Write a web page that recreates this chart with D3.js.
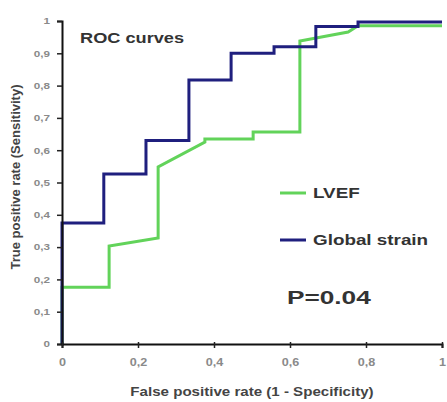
<!DOCTYPE html>
<html>
<head>
<meta charset="utf-8">
<script src="https://cdn.jsdelivr.net/npm/d3@7"></script>
<style>
  html, body { margin: 0; padding: 0; background: #fff; }
  svg { display: block; font-family: Arial, "Liberation Sans", sans-serif; }
</style>
</head>
<body>
<svg id="chart" width="447" height="402"></svg>
<script>
// ROC curve points: [false positive rate, true positive rate]
const lvefPoints = [
  [0, 0], [0, 0.176], [0.124, 0.176], [0.124, 0.303], [0.253, 0.328],
  [0.253, 0.548], [0.376, 0.625], [0.376, 0.635], [0.503, 0.635],
  [0.503, 0.656], [0.626, 0.656], [0.626, 0.938], [0.753, 0.966],
  [0.779, 0.985], [1, 0.985]
];
const strainPoints = [
  [0, 0], [0, 0.375], [0.11, 0.375], [0.11, 0.526], [0.221, 0.526],
  [0.221, 0.63], [0.334, 0.63], [0.334, 0.817], [0.445, 0.817],
  [0.445, 0.90], [0.558, 0.90], [0.558, 0.92], [0.668, 0.92],
  [0.668, 0.983], [0.779, 0.983], [0.779, 0.997], [1, 0.997]
];
const seriesNames = ["LVEF", "Global strain"];
const seriesColors = ["#62d35a", "#1f1f7e"];
const xTicks = [0, 0.2, 0.4, 0.6, 0.8, 1];
const yTicks = [0, 0.1, 0.2, 0.3, 0.4, 0.5, 0.6, 0.7, 0.8, 0.9, 1];
const chartTitle = "ROC curves";
const pLabel = "P=0.04";
const xTitle = "False positive rate (1 - Specificity)";
const yTitle = "True positive rate (Sensitivity)";

const svg = d3.select("#chart");
const x = d3.scaleLinear().domain([0, 1]).range([62, 442]);
const y = d3.scaleLinear().domain([0, 1]).range([344, 21]);
const fmt = v => (v === 0 || v === 1) ? String(v) : d3.format(".1f")(v).replace(".", ",");

// the chart's lettering is set wide: stretch horizontal text by a factor
const WIDE = 1.3;
function wideText(px, py, str, size, sx, anchor) {
  return svg.append("text")
    .attr("transform", `translate(${px},${py}) scale(${sx},1)`)
    .attr("text-anchor", anchor || "start")
    .attr("fill", "#333")
    .style("font-size", size + "px")
    .style("font-weight", "bold")
    .text(str);
}

// curves (LVEF underneath, global strain on top)
const line = d3.line().x(d => x(d[0])).y(d => y(d[1]));
[lvefPoints, strainPoints].forEach((pts, i) => {
  svg.append("path")
    .datum(pts)
    .attr("fill", "none")
    .attr("stroke", seriesColors[i])
    .attr("stroke-width", 3)
    .attr("stroke-linejoin", "miter")
    .attr("d", line);
});

// y axis
const yAxis = svg.append("g")
  .attr("transform", `translate(${x(0)},0)`)
  .call(d3.axisLeft(y).tickValues(yTicks).tickFormat(fmt).tickSize(5).tickPadding(7));
yAxis.select(".domain").attr("stroke", "#111").attr("stroke-width", 2);
yAxis.selectAll(".tick line").attr("stroke", "#222").attr("stroke-width", 1.5);
const ySx = 1.3;
yAxis.selectAll(".tick text")
  .attr("x", -12 / ySx)
  .attr("transform", `scale(${ySx},1)`)
  .attr("fill", "#8a8a8a").style("font-size", "9px").style("font-weight", "bold");

// x axis
const xAxis = svg.append("g")
  .attr("transform", `translate(0,${y(0)})`)
  .call(d3.axisBottom(x).tickValues(xTicks).tickFormat(fmt).tickSize(4).tickPadding(11));
xAxis.select(".domain").attr("stroke", "#111").attr("stroke-width", 2);
xAxis.selectAll(".tick line").attr("stroke", "#222").attr("stroke-width", 1.5).attr("y1", -2);
xAxis.selectAll(".tick text")
  .attr("transform", "scale(1.2,1)")
  .attr("fill", "#8a8a8a").style("font-size", "10.5px").style("font-weight", "bold");

// axis titles
wideText((x(0) + x(1)) / 2, 396, xTitle, 12, 1.26, "middle").attr("fill", "#444");
svg.append("text")
  .attr("transform", `translate(20,177) rotate(-90)`)
  .attr("text-anchor", "middle")
  .attr("fill", "#444").style("font-size", "13px").style("font-weight", "bold")
  .text(yTitle);

// chart title
wideText(80, 43, chartTitle, 14, WIDE);

// legend
const legendY = [193, 240];
seriesNames.forEach((name, i) => {
  svg.append("line")
    .attr("x1", 280).attr("x2", 306)
    .attr("y1", legendY[i]).attr("y2", legendY[i])
    .attr("stroke", seriesColors[i]).attr("stroke-width", 3);
  wideText(313, legendY[i] + 5, name, 14.5, WIDE);
});

// p-value
wideText(287, 304, pLabel, 19, 1.38);
</script>
</body>
</html>
